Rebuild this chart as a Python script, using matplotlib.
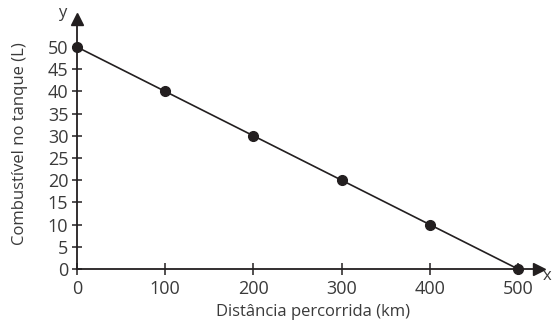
import matplotlib.pyplot as plt

plt.rcParams['font.family'] = ['Open Sans', 'DejaVu Sans']

distancia = [0, 100, 200, 300, 400, 500]
combustivel = [50, 40, 30, 20, 10, 0]
x_ticks = [0, 100, 200, 300, 400, 500]
y_ticks = [0, 5, 10, 15, 20, 25, 30, 35, 40, 45, 50]

ink = '#231f20'
txt = '#3a3a3a'

fig = plt.figure(figsize=(5.52, 3.21), dpi=100)
ax = fig.add_axes([0, 0, 1, 1])

# pixel mapping of the reference: x 0 -> 77px, 500 -> 518px ; y 0 -> 269px, 50 -> 47px
ax.set_xlim(-77 * 500 / 441, (552 - 77) * 500 / 441)
ax.set_ylim(-(321 - 269) * 50 / 222, 269 * 50 / 222)

for s in ['top', 'right']:
    ax.spines[s].set_visible(False)
ax.spines['left'].set_position(('data', 0))
ax.spines['bottom'].set_position(('data', 0))
ax.spines['left'].set_bounds(0, 56)
ax.spines['bottom'].set_bounds(0, 522)
for s in ['left', 'bottom']:
    ax.spines[s].set_linewidth(1.3)
    ax.spines[s].set_color(ink)

ax.plot([0], [56.3], marker='^', markersize=8, color=ink, clip_on=False)
ax.plot([524], [0], marker='>', markersize=8, color=ink, clip_on=False)

ax.set_xticks(x_ticks)
ax.set_yticks(y_ticks)
ax.tick_params(axis='both', direction='inout', color=ink, width=1.1,
               labelcolor=txt, labelsize=13)
ax.tick_params(axis='x', length=8, pad=4)
ax.tick_params(axis='y', length=6.5, pad=3)

ax.plot(distancia, combustivel, color=ink, linewidth=1.2, marker='o',
        markersize=7, clip_on=False, zorder=5)

ax.text(-16.4, 57.6, 'y', fontsize=12, color=txt, ha='center', va='center')
ax.text(537.4, -1.6, 'x', fontsize=12, color=txt, ha='right', va='center')
ax.text(267.6, -10.6, 'Distância percorrida (km)', fontsize=12, color=txt,
        ha='center', va='baseline')
ax.text(-64.6, 28.15, 'Combustível no tanque (L)', fontsize=12, color=txt,
        ha='center', va='center', rotation=90)

fig.savefig('out.png', dpi=100)
